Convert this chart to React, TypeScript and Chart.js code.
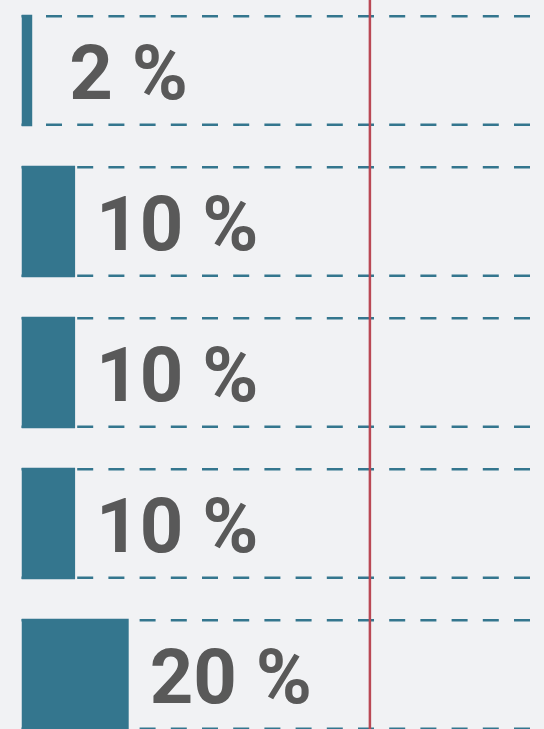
import React, { useEffect, useRef } from 'react';
import { Chart, registerables } from 'chart.js';

Chart.register(...registerables);

const categories = ['Row 1', 'Row 2', 'Row 3', 'Row 4', 'Row 5'];
const values = [2, 10, 10, 10, 20];
const scaleMin = 0;
const scaleMax = 100;
const referenceValue = 65;
const minLabelAnchor = 5;
const valueSuffix = ' %';

const BAR_COLOR = '#34768e';
const LINE_COLOR = '#b94854';
const TEXT_COLOR = '#595959';
const BG_COLOR = '#f1f2f4';

export default function App() {
  const canvasRef = useRef<HTMLCanvasElement | null>(null);

  useEffect(() => {
    if (!canvasRef.current) return;

    const overlay = {
      id: 'overlay',
      beforeDatasetsDraw(chart: any) {
        const { ctx, chartArea } = chart;
        const meta = chart.getDatasetMeta(0);
        ctx.save();
        ctx.strokeStyle = BAR_COLOR;
        ctx.lineWidth = 2.5;
        ctx.setLineDash([16, 15.2]);
        ctx.lineDashOffset = 6.7;
        meta.data.forEach((bar: any) => {
          const { y, height } = bar.getProps(['y', 'height'], true);
          const top = y - height / 2 + 1.5;
          const bottom = y + height / 2 - 1.5;
          [top, bottom].forEach((yy) => {
            ctx.beginPath();
            ctx.moveTo(chartArea.left, yy);
            ctx.lineTo(chartArea.right, yy);
            ctx.stroke();
          });
        });
        ctx.restore();
      },
      afterDatasetsDraw(chart: any) {
        const { ctx, chartArea } = chart;
        const xScale = chart.scales.x;
        const meta = chart.getDatasetMeta(0);

        // reference line
        const rx = xScale.getPixelForValue(referenceValue);
        ctx.save();
        ctx.strokeStyle = LINE_COLOR;
        ctx.lineWidth = 2.5;
        ctx.beginPath();
        ctx.moveTo(rx, chartArea.top);
        ctx.lineTo(rx, chartArea.bottom);
        ctx.stroke();
        ctx.restore();

        // value labels
        ctx.save();
        ctx.fillStyle = TEXT_COLOR;
        ctx.font = 'bold 76px Roboto, sans-serif';
        ctx.textAlign = 'left';
        ctx.textBaseline = 'alphabetic';
        meta.data.forEach((bar: any, i: number) => {
          const { y } = bar.getProps(['y'], true);
          const anchor = xScale.getPixelForValue(Math.max(values[i], minLabelAnchor));
          ctx.fillText(values[i] + valueSuffix, anchor + 21, y + 28.5);
        });
        ctx.restore();
      },
    };

    const chart = new Chart(canvasRef.current, {
      type: 'bar',
      data: {
        labels: categories,
        datasets: [
          {
            data: values,
            backgroundColor: BAR_COLOR,
            borderWidth: 0,
            barPercentage: 1,
            categoryPercentage: 0.7384,
          },
        ],
      },
      options: {
        indexAxis: 'y',
        responsive: true,
        maintainAspectRatio: false,
        animation: false,
        layout: { padding: { left: 21.5, right: 22.5, top: 0, bottom: 0 } },
        plugins: {
          legend: { display: false },
          tooltip: { enabled: false },
        },
        scales: {
          x: { type: 'linear', min: scaleMin, max: scaleMax, display: false },
          y: { type: 'category', display: false },
        },
      },
      plugins: [overlay],
    });

    return () => chart.destroy();
  }, []);

  return (
    <div
      style={{
        position: 'fixed',
        left: 0,
        top: 0,
        width: 544,
        height: 729,
        overflow: 'hidden',
        background: BG_COLOR,
      }}
    >
      <div style={{ position: 'absolute', left: 0, top: -5, width: 580, height: 755 }}>
        <canvas ref={canvasRef} />
      </div>
    </div>
  );
}
